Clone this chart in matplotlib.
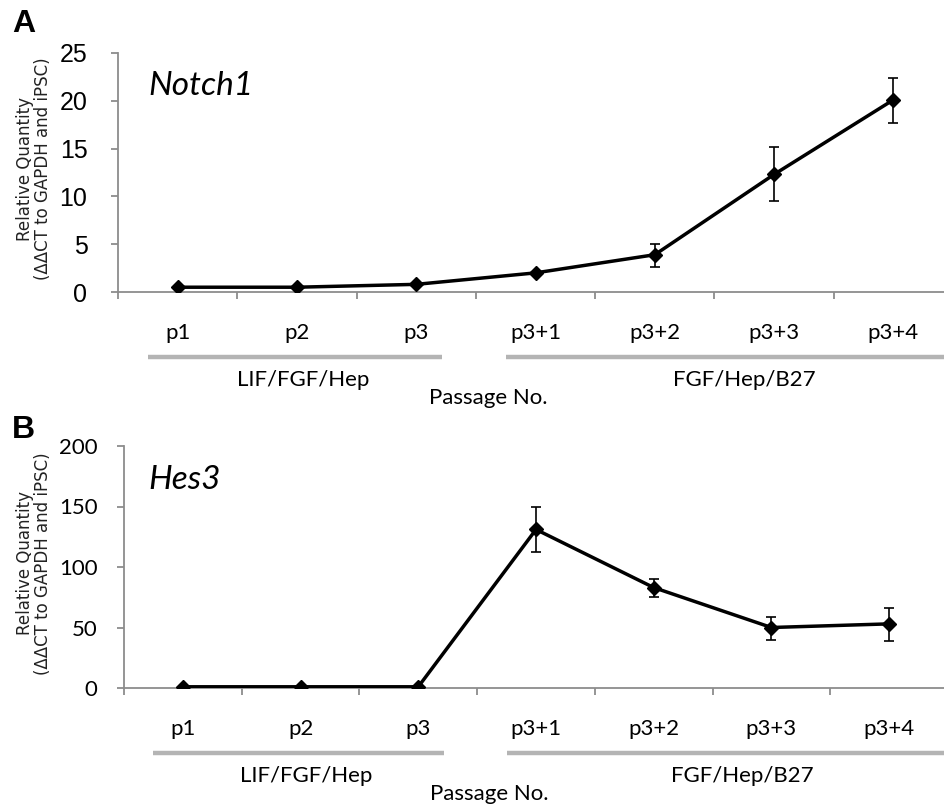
import matplotlib
matplotlib.use("Agg")
import matplotlib.pyplot as plt
import matplotlib.transforms as mtransforms

categories = ["p1", "p2", "p3", "p3+1", "p3+2", "p3+3", "p3+4"]
notch1 = [0.5, 0.5, 0.8, 2.0, 3.9, 12.3, 20.1]
notch1_err_lo = [0, 0, 0, 0, 1.3, 2.8, 2.4]
notch1_err_hi = [0, 0, 0, 0, 1.1, 2.9, 2.3]
hes3 = [1, 1, 1, 131, 83, 50, 53]
hes3_err_lo = [0, 0, 0, 19, 8, 10, 14]
hes3_err_hi = [0, 0, 0, 19, 7, 9, 13]
groups = [("LIF/FGF/Hep", 1, 3), ("FGF/Hep/B27", 4, 7)]
notch1_ticks = [0, 5, 10, 15, 20, 25]
hes3_ticks = [0, 50, 100, 150, 200]

W, H = 944, 810
fig = plt.figure(figsize=(W / 100, H / 100), dpi=100)

def px_axes(x0, x1, y_top, y_bot):
    return fig.add_axes([x0 / W, 1 - y_bot / H, (x1 - x0) / W, (y_bot - y_top) / H])

def panel(ax, vals, lo, hi, ticks, gene, gene_y, letter, letter_y, tickfont, tickpad):
    x = list(range(1, len(categories) + 1))
    ax.errorbar(x, vals, yerr=[lo, hi], fmt="none", ecolor="black",
                elinewidth=1.2, capsize=3.5, capthick=1.2, zorder=3)
    ax.plot(x, vals, color="black", lw=2.5, marker="D", markersize=7, zorder=4)
    ax.set_xlim(0.5, len(categories) + 0.5)
    ax.set_ylim(ticks[0], ticks[-1])
    ax.set_yticks(ticks)
    ax.set_yticklabels([str(t) for t in ticks], fontsize=tickfont[1], family=tickfont[0])
    ax.set_xticks([i + 0.5 for i in range(len(categories))])
    ax.set_xticklabels([])
    for s in ["top", "right"]:
        ax.spines[s].set_visible(False)
    for s in ["left", "bottom"]:
        ax.spines[s].set_color("#8c8c8c")
        ax.spines[s].set_linewidth(1.3)
    ax.tick_params(axis="both", direction="out", length=5, width=1.3, color="#8c8c8c")
    ax.tick_params(axis="y", pad=tickpad)
    fig.text(148 / W, 1 - gene_y / H, gene, fontsize=24, style="italic",
             family="Lato", va="center", ha="left")
    ax.set_ylabel("Relative Quantity\n(ΔΔCT to GAPDH and iPSC)", fontsize=12,
                  family="DejaVu Sans", color="#222222", linespacing=1.05)
    ax.yaxis.set_label_coords(
        34 / W, 0.515, transform=mtransforms.blended_transform_factory(fig.transFigure, ax.transAxes))
    ax.yaxis.label.set_va("center")
    blend = mtransforms.blended_transform_factory(ax.transData, ax.transAxes)
    def off(dy):
        return blend + mtransforms.ScaledTranslation(0, -dy / 100, fig.dpi_scale_trans)
    for i, c in enumerate(categories):
        ax.text(i + 1, 0, c, transform=off(41), ha="center", va="center",
                fontsize=16, family="Lato", clip_on=False)
    for name, a, b in groups:
        ax.plot([a - 0.25, b + 0.22 if b < len(categories) else b + 0.9], [0, 0],
                transform=off(65), color="#b4b4b4", lw=3.2, solid_capstyle="butt",
                clip_on=False)
        ax.text((a + b) / 2 + (0.05 if b < len(categories) else 0.25), 0, name,
                transform=off(88), ha="center", va="center", fontsize=16,
                family="Lato", clip_on=False)
    ax.text(3.6, 0, "Passage No.", transform=off(106), ha="center", va="center",
            fontsize=16, family="Lato", clip_on=False)
    fig.text(12 / W, 1 - letter_y / H, letter, fontsize=23, fontweight="bold",
             family="Liberation Sans", va="center", ha="left")

axA = px_axes(118, 953, 53, 292)
panel(axA, notch1, notch1_err_lo, notch1_err_hi, notch1_ticks, "Notch1", 86, "A", 24,
      ("Liberation Sans", 18), 17)
axB = px_axes(124, 948, 446, 688)
panel(axB, hes3, hes3_err_lo, hes3_err_hi, hes3_ticks, "Hes3", 480, "B", 430,
      ("Lato", 16), 14)

fig.savefig("out.png", dpi=100)
